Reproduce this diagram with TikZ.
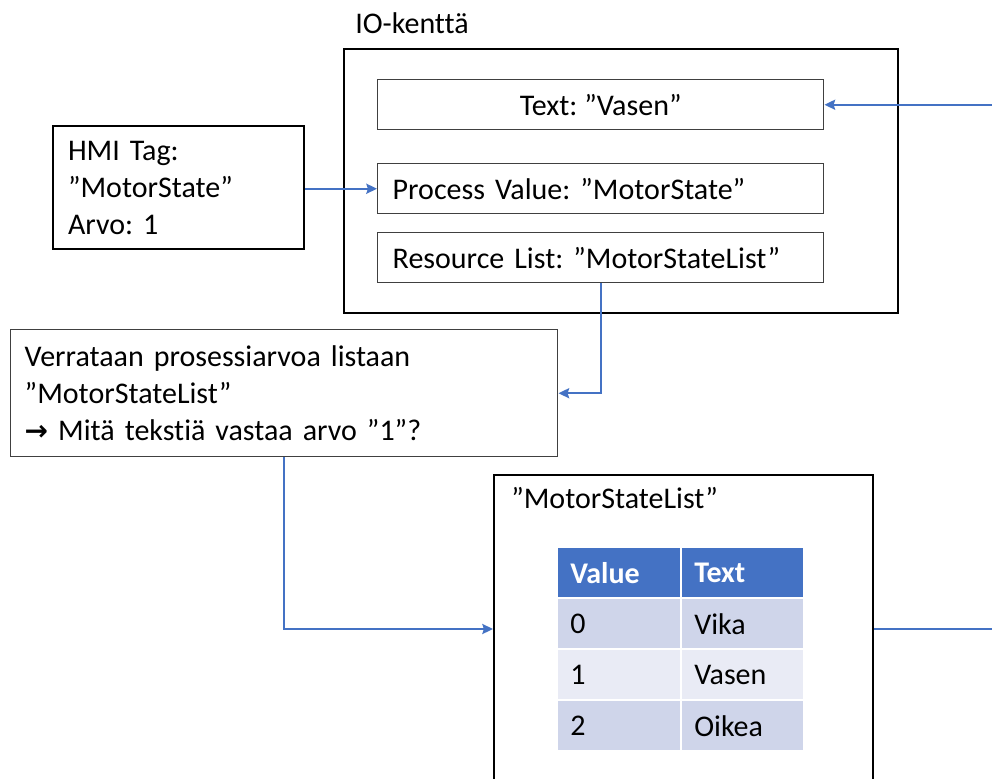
\documentclass[tikz,border=0pt]{standalone}
\usepackage{fontspec}
\setmainfont[Ligatures=NoCommon]{Carlito}
\newfontfamily\symfont{DejaVu Sans}
\usetikzlibrary{arrows.meta}
\definecolor{linkblue}{HTML}{4472C4}
\definecolor{rowdark}{HTML}{CFD5EA}
\definecolor{rowlight}{HTML}{E9EBF5}
\definecolor{boxgray}{HTML}{404040}
\frenchspacing

\begin{document}
\begin{tikzpicture}[x=0.75pt,y=-0.75pt,
  every node/.style={font=\fontsize{22.5}{27.75}\selectfont, inner sep=0pt},
  frame/.style={draw=black, line width=1.5pt, rectangle, anchor=north west},
  field/.style={draw=boxgray, line width=1.1pt, rectangle, anchor=north west},
  cell/.style={rectangle, anchor=north west, minimum height=36.75pt, inner xsep=9pt, align=left},
  hcell/.style={cell, fill=linkblue, text=white, font=\fontsize{22.5}{27.75}\selectfont\bfseries},
  link/.style={draw=linkblue, line width=1.7pt, -{Stealth[length=8pt,width=7.5pt,inset=1.2pt]}}]
\useasboundingbox (0,0) rectangle (992,778);
\clip (0,0) rectangle (992,778);
\fill[white] (0,0) rectangle (992,778);

% IO field with its three properties
\node[anchor=base west] (iolabel) at (355,33) {IO-kenttä};
\node[frame, minimum width=415.5pt, minimum height=198pt] (io) at (343,48) {};
\node[field, minimum width=334.5pt, minimum height=37.5pt] (txt) at (377,79) {Text: ”Vasen”};
\node[field, minimum width=334.5pt, minimum height=37.5pt, text width=312pt, inner xsep=11.25pt, align=left] (pv) at (377,163) {Process Value: ”MotorState”};
\node[field, minimum width=334.5pt, minimum height=37.5pt, text width=312pt, inner xsep=11.25pt, align=left] (rl) at (377,232) {Resource List: ”MotorStateList”};

% HMI tag
\node[frame, minimum width=188.25pt, minimum height=92.25pt, text width=165.75pt, inner xsep=11.25pt, align=left] (hmi) at (52,125) {HMI Tag:\\”MotorState”\\Arvo: 1};

% Comparison step
\node[field, minimum width=410.25pt, minimum height=95.25pt, text width=389.25pt, inner xsep=10.5pt, align=left] (ver) at (10,329) {Verrataan prosessiarvoa listaan\\”MotorStateList”\\{\symfont\bfseries\fontsize{21}{27.75}\selectfont →} Mitä tekstiä vastaa arvo ”1”?};

% Text list
\node[frame, minimum width=284.25pt, minimum height=231pt] (msl) at (493,474) {};
\node[anchor=base west] (msllabel) at (511,508) {”MotorStateList”};

% Table of values
\node[hcell, text width=73.5pt] (h1) at (558,548) {Value};
\node[hcell, text width=72.75pt] (h2) at (682,548) {Text};
\node[cell, fill=rowdark, text width=73.5pt] (a1) at (558,599) {0};
\node[cell, fill=rowdark, text width=72.75pt] (a2) at (682,599) {Vika};
\node[cell, fill=rowlight, text width=73.5pt] (b1) at (558,650) {1};
\node[cell, fill=rowlight, text width=72.75pt] (b2) at (682,650) {Vasen};
\node[cell, fill=rowdark, text width=73.5pt] (c1) at (558,701) {2};
\node[cell, fill=rowdark, text width=72.75pt] (c2) at (682,701) {Oikea};

% Connectors
\coordinate (ret) at (1010,0);
\draw[link] (hmi.east |- pv.west) -- (pv.west);
\draw[link] (rl.south) |- (ver.east);
\draw[link] (ver.south) |- (msl.west);
\draw[link] (msl.east) -- (msl.east -| ret) |- (txt.east);
\end{tikzpicture}
\end{document}
